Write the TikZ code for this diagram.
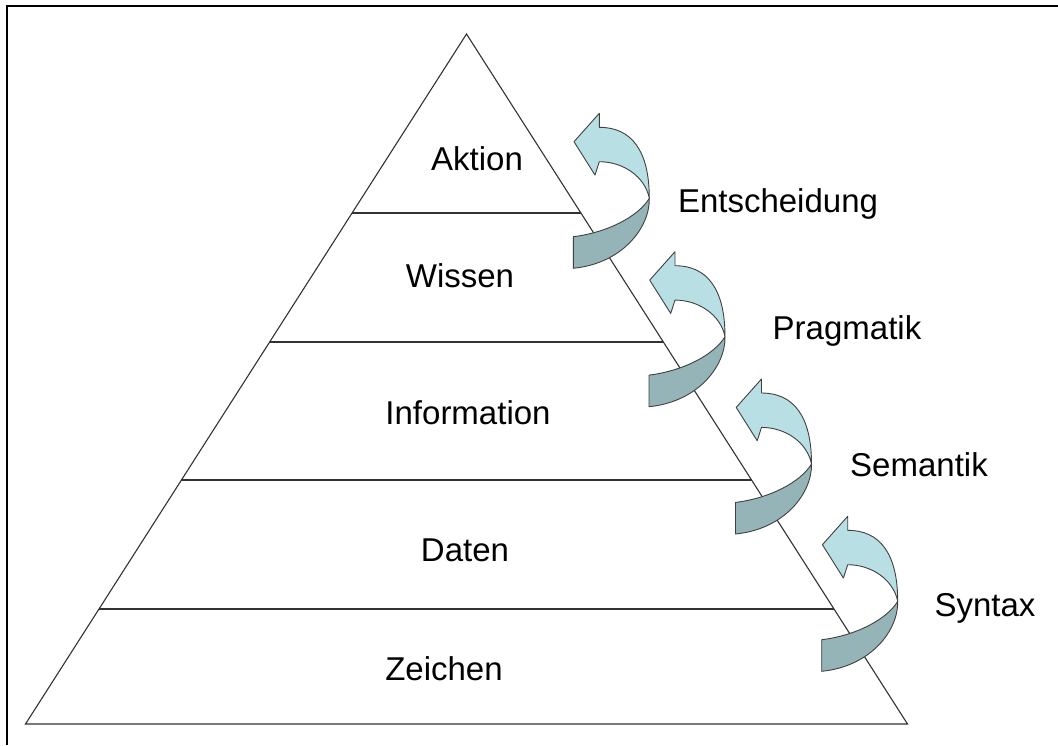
\documentclass[tikz,border=0pt]{standalone}
\usepackage{fontspec}
\setmainfont{Liberation Sans}
\usetikzlibrary{calc}
\begin{document}
\definecolor{ribbonlight}{RGB}{184,223,227}
\definecolor{ribbondark}{RGB}{148,180,184}
\definecolor{pyrline}{RGB}{50,50,50}
\tikzset{
  lbl/.style={anchor=base, inner sep=0pt, font=\fontsize{33}{33}\selectfont},
  pyr/.style={draw=pyrline, line width=1.1pt},
  ribbonedge/.style={draw=black!75, line width=0.9pt, line join=round},
  twist/.pic={
    % upper face with the arrow head
    \path[ribbonedge, fill=ribbonlight]
      (0.7,28.4) -- (26,0) -- (26,14)
      .. controls (58,14) and (76,37) .. (76,85)
      .. controls (71.7,63.4) and (50,48.4) .. (26,48.4)
      -- (21.7,61.7) -- cycle;
    % lower face of the band
    \path[ribbonedge, fill=ribbondark]
      (76,85) .. controls (76.7,113.4) and (50,150) .. (0,155)
      -- (0,123.4)
      .. controls (33.4,119.4) and (65,103.4) .. (76,85) -- cycle;
  }
}
\begin{tikzpicture}[x=1pt, y=-1pt]
  \useasboundingbox (0,0) rectangle (1058,745);
  % frame
  \draw[line width=2.2pt] (7,745) -- (7,6) -- (1058,6);

  % pyramid outline
  \coordinate (apex) at (466.5,34);
  \coordinate (bl) at (25.5,724);
  \coordinate (br) at (907.5,724);
  \draw[pyr, line join=miter] (bl) -- (apex) -- (br) -- cycle;

  % level dividers
  \foreach \yy/\nm in {213/a, 342/b, 480/c, 609/d}{
    \coordinate (L\nm) at ($(apex)!{(\yy-34)/690}!(bl)$);
    \coordinate (R\nm) at ($(apex)!{(\yy-34)/690}!(br)$);
    \draw[pyr] (L\nm) -- (R\nm);
  }

  % level names
  \node[lbl] (aktion) at (477,170) {Aktion};
  \node[lbl] (wissen) at (460,287) {Wissen};
  \node[lbl] (information) at (468,424) {Information};
  \node[lbl] (daten) at (465,561) {Daten};
  \node[lbl] (zeichen) at (444,680) {Zeichen};

  % transitions between the levels
  \pic at (573.3,113.3) {twist};
  \pic at (649,251.7) {twist};
  \pic at (735.5,379) {twist};
  \pic at (821.7,516.3) {twist};

  \node[lbl] (entscheidung) at (778,212) {Entscheidung};
  \node[lbl] (pragmatik) at (847,339) {Pragmatik};
  \node[lbl] (semantik) at (919,476) {Semantik};
  \node[lbl] (syntax) at (985,616) {Syntax};
\end{tikzpicture}
\end{document}
